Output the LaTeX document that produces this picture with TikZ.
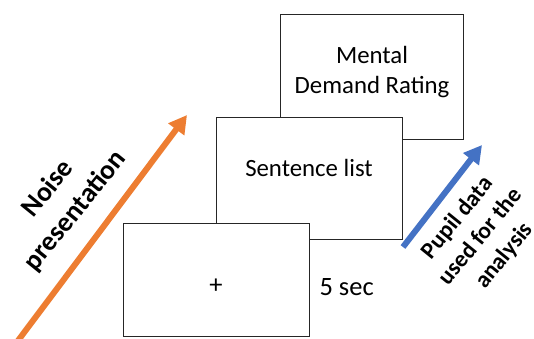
\documentclass[tikz,border=0pt]{standalone}
\usepackage{fontspec}
\setmainfont{Carlito}
\usetikzlibrary{arrows.meta}
\definecolor{orangeA}{HTML}{ED7D31}
\definecolor{blueA}{HTML}{4472C4}
\begin{document}
\begin{tikzpicture}[x=1pt,y=-1pt,
  screen/.style={draw=black!85, line width=1.3pt, fill=white, anchor=north west, inner sep=0pt},
  lbl/.style={font=\fontsize{24.8}{30}\selectfont, align=center},
  blbl/.style={font=\bfseries\fontsize{27.5}{35}\selectfont, align=center, rotate=51},
  bigarrow/.style={line width=6pt, -{Triangle[length=18pt,width=19pt]}}]
\useasboundingbox (0,0) rectangle (534,338);
\node[screen, minimum width=183pt, minimum height=125pt] (mdr) at (280,14) {};
\node[screen, minimum width=186pt, minimum height=122pt] (sl) at (216,117) {};
\node[screen, minimum width=186pt, minimum height=113pt] (fix) at (123,223) {};
\node[lbl] (mdrt) at (372,72) {Mental\\Demand Rating};
\node[lbl] (slt) at (309,168) {Sentence list};
\node[lbl, font=\fontsize{26.5}{30}\selectfont] (fixt) at (216,286) {+};
\node[lbl, font=\fontsize{26.5}{30}\selectfont, anchor=west] (sec) at (316,287) {5 sec};
\coordinate (oS) at (17,342);
\coordinate (oE) at (187,115);
\draw[bigarrow, orangeA] (oS) -- (oE);
\coordinate (bS) at (403,247);
\coordinate (bE) at (482,145);
\draw[bigarrow, blueA] (bS) -- (bE);
\node[blbl] (noise) at (62,200) {Noise\\presentation};
\node[blbl, font=\bfseries\fontsize{23.5}{30}\selectfont, rotate=0] (pupil) at (481,237) {Pupil data\\used for the\\analysis};
\end{tikzpicture}
\end{document}
